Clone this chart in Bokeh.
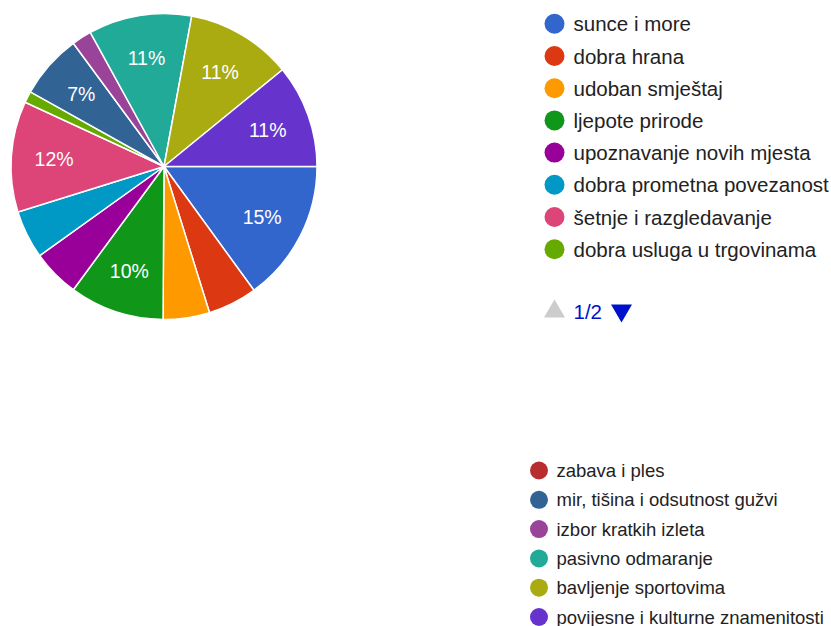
import math
from bokeh.plotting import figure
from bokeh.models import Range1d
from bokeh.core.properties import value
from bokeh.embed import file_html
from bokeh.resources import INLINE

categories = ["sunce i more", "dobra hrana", "udoban smještaj", "ljepote prirode",
              "upoznavanje novih mjesta", "dobra prometna povezanost",
              "šetnje i razgledavanje", "dobra usluga u trgovinama", "zabava i ples",
              "mir, tišina i odsutnost gužvi", "izbor kratkih izleta",
              "pasivno odmaranje", "bavljenje sportovima",
              "povijesne i kulturne znamenitosti"]
shares = [15.0, 5.2, 4.9, 10.0, 5.0, 5.1, 11.7, 1.2, 0.0, 6.8, 2.1, 10.9, 11.2, 10.9]
colors = ["#3366cc", "#dc3912", "#ff9900", "#109618", "#990099", "#0099c6",
          "#dd4477", "#66aa00", "#b82e2e", "#316395", "#994499", "#22aa99",
          "#aaaa11", "#6633cc"]
page_label = "1/2"

W, H = 831, 626
FONT = "Liberation Sans"

p = figure(width=W, height=H, output_backend="svg", toolbar_location=None,
           x_range=Range1d(0, W), y_range=Range1d(0, H), min_border=0)
p.axis.visible = False
p.grid.visible = False
p.outline_line_color = None
p.background_fill_color = "white"


def sy(y):
    return H - y


cx, cy, r = 163.5, sy(166), 153
total = sum(shares)
cum = 0.0
lx, ly, lt = [], [], []
for name, v, c in zip(categories, shares, colors):
    a0 = cum / total * 2 * math.pi
    cum += v
    a1 = cum / total * 2 * math.pi
    if v > 0:
        p.wedge(x=cx, y=cy, radius=r, start_angle=-a1, end_angle=-a0,
                fill_color=c, line_color="white", line_width=1.5)
    pct = v / total * 100
    if pct >= 6.5:
        mid = (a0 + a1) / 2
        lx.append(cx + 0.72 * r * math.cos(-mid))
        ly.append(cy + 0.72 * r * math.sin(-mid))
        lt.append(f"{round(pct)}%")

p.text(x=lx, y=ly, text=lt, text_align="center", text_baseline="middle",
       text_color="white", text_font=value(FONT), text_font_size="19.5px")

# legend page 1
n1 = 8
ys1 = [sy(23.3 + 32.2 * i) for i in range(n1)]
p.scatter(x=[554] * n1, y=ys1, size=20, marker="circle",
          fill_color=colors[:n1], line_color=None)
p.text(x=[573] * n1, y=ys1, text=categories[:n1], text_align="left",
       text_baseline="middle", text_color="#222222", text_font=value(FONT),
       text_font_size="20.5px")

# pager
p.scatter(x=[554], y=[sy(311)], size=21, marker="triangle",
          fill_color="#cccccc", line_color=None)
p.scatter(x=[621], y=[sy(310)], size=21, marker="inverted_triangle",
          fill_color="#0011cc", line_color=None)
p.text(x=[573], y=[sy(311)], text=[page_label], text_align="left",
       text_baseline="middle", text_color="#0011cc", text_font=value(FONT),
       text_font_size="20.5px")

# legend page 2
n2 = len(categories) - n1
ys2 = [sy(470 + 29.3 * i) for i in range(n2)]
p.scatter(x=[538.5] * n2, y=ys2, size=18, marker="circle",
          fill_color=colors[n1:], line_color=None)
p.text(x=[556] * n2, y=ys2, text=categories[n1:], text_align="left",
       text_baseline="middle", text_color="#222222", text_font=value(FONT),
       text_font_size="18.5px")

open("out.html", "w").write(file_html(p, INLINE))
